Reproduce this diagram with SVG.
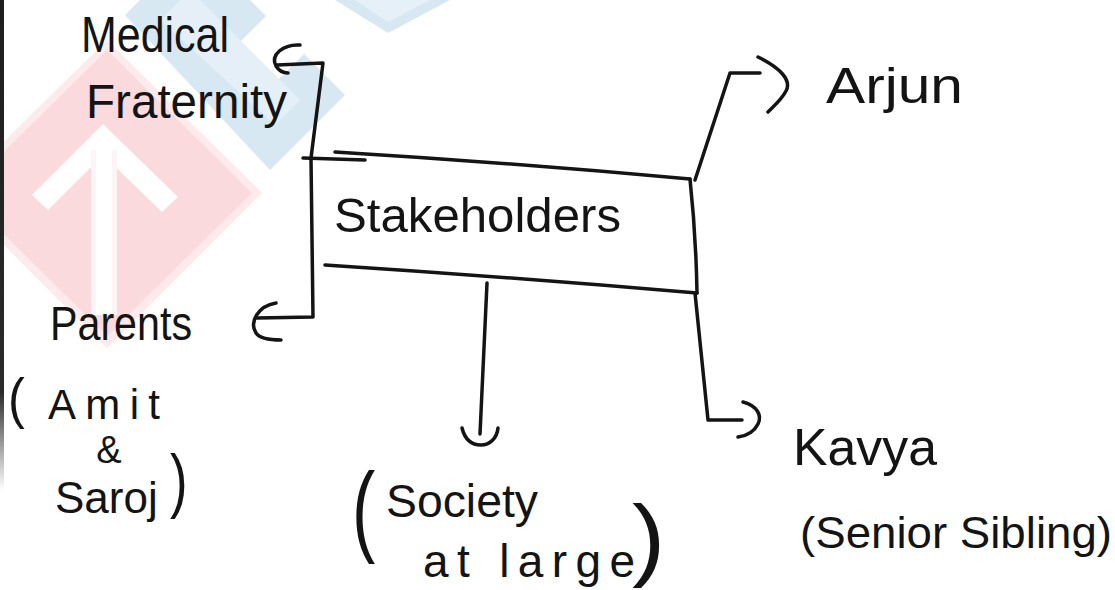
<svg xmlns="http://www.w3.org/2000/svg" width="1115" height="590" viewBox="0 0 1115 590">
  <style>
    .hand { font-family: "Liberation Sans", Arial, sans-serif; fill: #141414; }
    .ln { fill: none; stroke: #141414; stroke-width: 3.5; stroke-linecap: round; stroke-linejoin: round; }
    .hd { fill: none; stroke: #141414; stroke-width: 3.5; stroke-linecap: round; }
  </style>
  <defs>
    <linearGradient id="edge" x1="0" y1="0" x2="0" y2="1">
      <stop offset="0" stop-color="#1e1e1e"/>
      <stop offset="0.8" stop-color="#2a2a2a"/>
      <stop offset="1" stop-color="#2a2a2a" stop-opacity="0"/>
    </linearGradient>
  </defs>
  <rect x="0" y="0" width="1115" height="590" fill="#ffffff"/>
  <!-- faint watermark -->
  <g id="watermark">
    <polygon points="107,40 262,193 107,348 -48,193" fill="#fdeaec"/>
    <polygon points="107,50 252,193 107,336 -38,193" fill="#fadadd"/>
    <polygon points="103,124 178,197 162,212 103,155 48,210 32,195" fill="#ffffff"/>
    <rect x="91" y="150" width="26" height="165" fill="#fdf4f5"/>
    <rect x="96" y="150" width="16" height="165" fill="#ffffff"/>
    <polygon points="125,15 195,-55 345,95 270,170" fill="#d8e8f3"/>
    <polygon points="240,42 280,2 318,40 278,80" fill="#ffffff"/>
    <polygon points="160,20 190,-10 300,100 275,125" fill="#e4eff7"/>
    <polygon points="335,0 450,0 388,33" fill="#d8e8f3"/>
    <polygon points="355,0 430,0 388,22" fill="#e6f0f8"/>
  </g>
  <rect x="0" y="0" width="4" height="490" fill="url(#edge)"/>

  <g id="connectors">
    <!-- bracket to Medical Fraternity and Parents -->
    <path class="ln" d="M 277,65 L 323,63 L 311,158 L 313,317 L 257,318"/>
    <path class="hd" d="M 300,45 C 283,44 270,55 276,66 C 279,71 283,73 288,73"/>
    <path class="hd" d="M 276,303 C 258,306 249,322 256,333 C 260,339 270,340 281,340"/>
    <!-- to Arjun -->
    <path class="ln" d="M 695,180 L 730,73 L 760,73"/>
    <path class="hd" d="M 758,57 C 780,68 792,80 786,91 C 782,99 775,105 768,112"/>
    <!-- to Society -->
    <path class="ln" d="M 487,283 L 480,434"/>
    <path class="hd" d="M 462,428 C 465,440 472,445 481,445 C 490,445 497,438 498,428"/>
    <!-- to Kavya -->
    <path class="ln" d="M 695,293 L 708,420 L 742,420"/>
    <path class="hd" d="M 743,402 C 758,406 762,416 758,424 C 754,432 746,436 738,437"/>
  </g>

  <g id="stakeholders">
    <path class="ln" d="M 335,152 Q 515,163 690,179"/>
    <path class="ln" d="M 303,158 L 365,160"/>
    <path class="ln" d="M 690,179 Q 696,235 697,293"/>
    <path class="ln" d="M 325,265 Q 510,277 697,293"/>
    <text class="hand" x="334" y="232" font-size="48" textLength="287" lengthAdjust="spacingAndGlyphs">Stakeholders</text>
  </g>

  <g id="medical-fraternity">
    <text class="hand" x="81" y="52" font-size="50" textLength="148" lengthAdjust="spacingAndGlyphs">Medical</text>
    <text class="hand" x="86" y="118" font-size="48" textLength="201" lengthAdjust="spacingAndGlyphs">Fraternity</text>
  </g>

  <g id="arjun">
    <text class="hand" x="826" y="103" font-size="50" textLength="137" lengthAdjust="spacingAndGlyphs">Arjun</text>
  </g>

  <g id="parents">
    <text class="hand" x="50" y="340" font-size="48" textLength="142" lengthAdjust="spacingAndGlyphs">Parents</text>
    <text class="hand" font-size="42" transform="translate(8,417) scale(1.2,1.3)">(</text>
    <text class="hand" x="48" y="419" font-size="42" textLength="112" lengthAdjust="spacing">Amit</text>
    <text class="hand" x="109" y="463" font-size="38" text-anchor="middle">&amp;</text>
    <text class="hand" x="55" y="513" font-size="44">Saroj</text>
    <text class="hand" font-size="44" transform="translate(170,504) scale(1.2,1.6)">)</text>
  </g>

  <g id="society">
    <text class="hand" font-size="50" transform="translate(352,543) scale(1.4,2)">(</text>
    <text class="hand" x="386" y="517" font-size="46" textLength="152" lengthAdjust="spacingAndGlyphs">Society</text>
    <text class="hand" x="423" y="577" font-size="46" textLength="212" lengthAdjust="spacing">at large</text>
    <text class="hand" font-size="50" transform="translate(632,569) scale(2,1.8)">)</text>
  </g>

  <g id="kavya">
    <text class="hand" x="793" y="465" font-size="52" textLength="144" lengthAdjust="spacingAndGlyphs">Kavya</text>
    <text class="hand" x="800" y="548" font-size="44" textLength="312" lengthAdjust="spacingAndGlyphs">(Senior Sibling)</text>
  </g>
</svg>
